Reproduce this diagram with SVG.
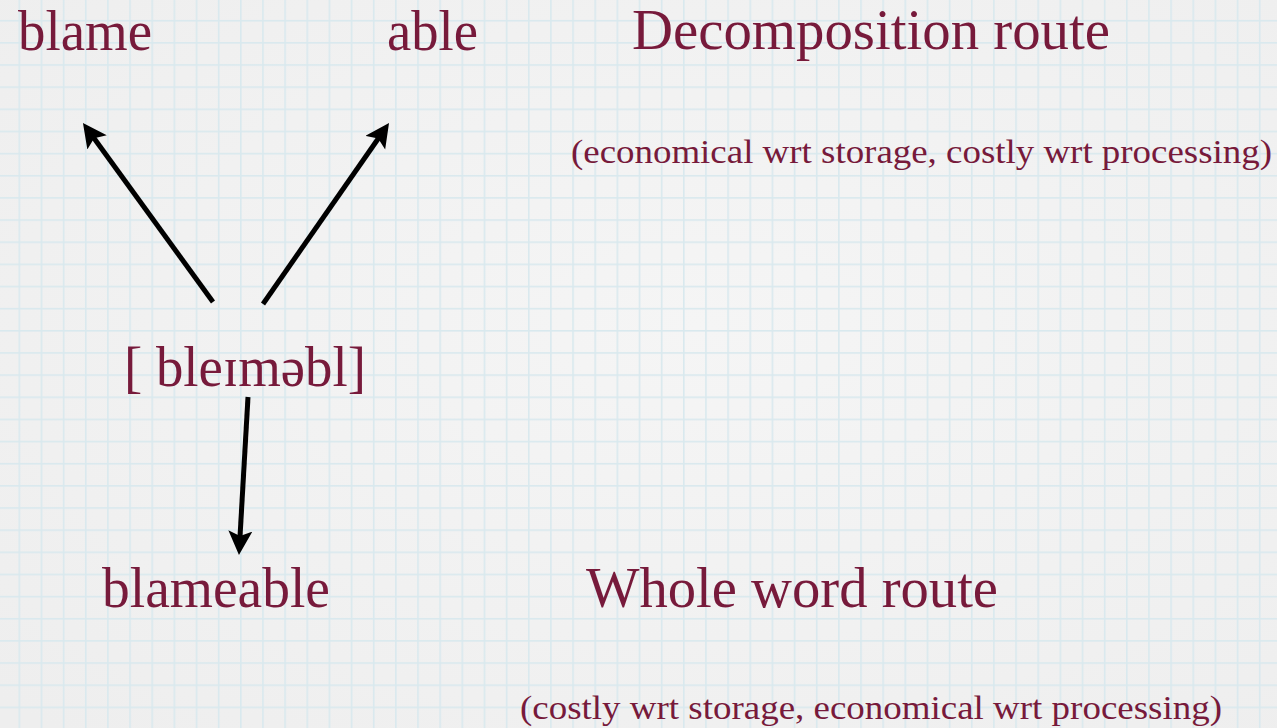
<svg xmlns="http://www.w3.org/2000/svg" width="1277" height="728" viewBox="0 0 1277 728">
  <defs>
    <radialGradient id="bg" cx="0.55" cy="0.45" r="0.75">
      <stop offset="0" stop-color="#f5f5f5"/>
      <stop offset="1" stop-color="#eeeeee"/>
    </radialGradient>
    <pattern id="grid" patternUnits="userSpaceOnUse" x="18.5" y="19.9" width="22.15" height="22.15">
      <rect x="0" y="0" width="1.6" height="22.15" fill="#d9e9ee"/>
      <rect x="0" y="0" width="22.15" height="1.6" fill="#d9e9ee"/>
    </pattern>
    <marker id="head" markerUnits="userSpaceOnUse" markerWidth="26" markerHeight="26" viewBox="0 0 26 26" refX="11" refY="12" orient="auto">
      <path d="M24,12 L0,0 L5,12 L0,24 Z" fill="#000"/>
    </marker>
    <style>
      .t { font-family: "Liberation Serif", "DejaVu Serif", serif; fill: #771a3b; }
      .big { font-size: 56px; }
      .small { font-size: 34px; }
      .arrow { stroke: #000; stroke-width: 5; fill: none; marker-end: url(#head); }
    </style>
  </defs>
  <rect width="1277" height="728" fill="url(#bg)"/>
  <rect width="1277" height="728" fill="url(#grid)"/>

  <g id="connectors">
    <line class="arrow" x1="213" y1="302" x2="90.6" y2="133.5"/>
    <line class="arrow" x1="263" y1="304" x2="381.6" y2="133.7"/>
    <line class="arrow" x1="248" y1="397" x2="239.7" y2="542"/>
  </g>

  <g id="node-blame"><text class="t big" x="18" y="50" textLength="134" lengthAdjust="spacingAndGlyphs">blame</text></g>
  <g id="node-able"><text class="t big" x="387" y="50" textLength="91" lengthAdjust="spacingAndGlyphs">able</text></g>
  <g id="node-decomposition"><text class="t big" x="632" y="49" textLength="478" lengthAdjust="spacingAndGlyphs">Decomposition route</text></g>
  <g id="note-decomposition"><text class="t small" x="571" y="163" textLength="701" lengthAdjust="spacingAndGlyphs">(economical wrt storage, costly wrt processing)</text></g>
  <g id="node-phon"><text class="t big" x="124" y="386" textLength="242" lengthAdjust="spacingAndGlyphs">[ bleɪməbl]</text></g>
  <g id="node-blameable"><text class="t big" x="102" y="607" textLength="228" lengthAdjust="spacingAndGlyphs">blameable</text></g>
  <g id="node-whole"><text class="t big" x="586" y="607" textLength="412" lengthAdjust="spacingAndGlyphs">Whole word route</text></g>
  <g id="note-whole"><text class="t small" x="520" y="719" textLength="702" lengthAdjust="spacingAndGlyphs">(costly wrt storage, economical wrt processing)</text></g>
</svg>
